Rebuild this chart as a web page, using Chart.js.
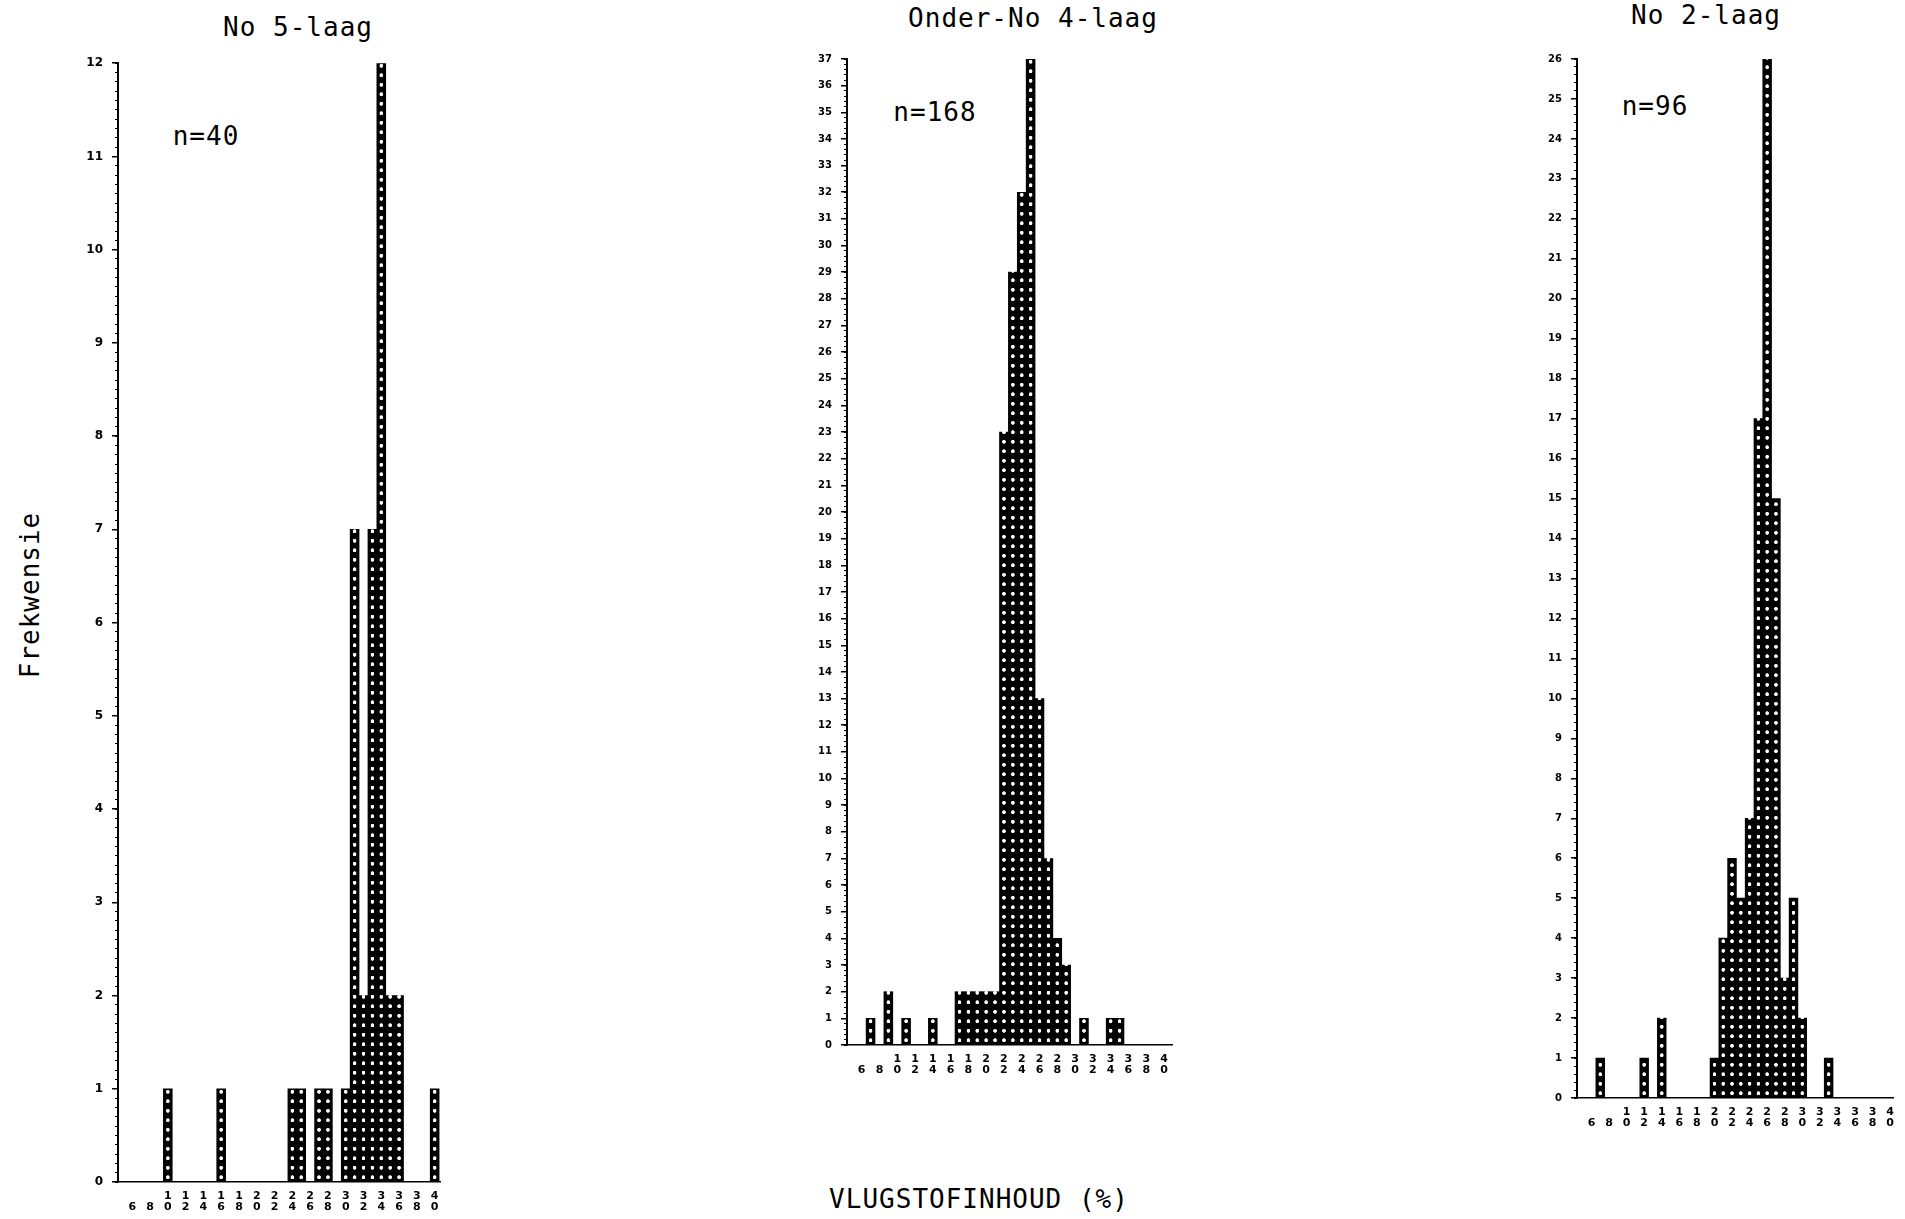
<!DOCTYPE html>
<html>
<head>
<meta charset="utf-8">
<script src="https://cdn.jsdelivr.net/npm/chart.js@4.4.1/dist/chart.umd.min.js"></script>
<style>
  body { margin: 0; width: 1905px; height: 1219px; background: #fff; position: relative; overflow: hidden; }
  canvas { position: absolute; }
  .txt {
    position: absolute; transform: translate(-50%, -50%);
    font-family: 'DejaVu Sans Mono', monospace; font-size: 26px; line-height: 1;
    letter-spacing: 1px; white-space: nowrap; color: #000;
  }
</style>
</head>
<body>
<div class="txt" style="left:298px;top:27px">No 5-laag</div>
<div class="txt" style="left:1033px;top:18px">Onder-No 4-laag</div>
<div class="txt" style="left:1706px;top:15px">No 2-laag</div>
<div class="txt" style="left:206px;top:136px">n=40</div>
<div class="txt" style="left:935px;top:112px">n=168</div>
<div class="txt" style="left:1655px;top:106px">n=96</div>
<div class="txt" style="left:30px;top:595px;transform:translate(-50%,-50%) rotate(-90deg)">Frekwensie</div>
<div class="txt" style="left:979px;top:1199px">VLUGSTOFINHOUD (%)</div>

<canvas id="no5" width="392" height="1170" style="left:58px;top:47px"></canvas>
<canvas id="no4" width="395" height="1036" style="left:787px;top:44px"></canvas>
<canvas id="no2" width="386" height="1089" style="left:1517px;top:44px"></canvas>

<script>
// histogram bins (volatile matter %, 1% classes)
const bins = [6, 7, 8, 9, 10, 11, 12, 13, 14, 15, 16, 17, 18, 19, 20, 21, 22, 23,
              24, 25, 26, 27, 28, 29, 30, 31, 32, 33, 34, 35, 36, 37, 38, 39, 40];
const tickBins = [6, 8, 10, 12, 14, 16, 18, 20, 22, 24, 26, 28, 30, 32, 34, 36, 38, 40];

// frequencies per bin
const no5 = [0, 0, 0, 0, 1, 0, 0, 0, 0, 0, 1, 0, 0, 0, 0, 0, 0, 0,
             1, 1, 0, 1, 1, 0, 1, 7, 2, 7, 12, 2, 2, 0, 0, 0, 1];
const onderNo4 = [0, 1, 0, 2, 0, 1, 0, 0, 1, 0, 0, 2, 2, 2, 2, 2, 23, 29,
                  32, 37, 13, 7, 4, 3, 0, 1, 0, 0, 1, 1, 0, 0, 0, 0, 0];
const no2 = [0, 1, 0, 0, 0, 0, 1, 0, 2, 0, 0, 0, 0, 0, 1, 4, 6, 5,
             7, 17, 26, 15, 3, 5, 2, 0, 0, 1, 0, 0, 0, 0, 0, 0, 0];

// black bars with white dots, one dot column per bin
function dotPattern(chart) {
  const xs = chart.scales.x, ys = chart.scales.y;
  if (!xs || !ys || !chart.chartArea) return '#000';
  const tile = document.createElement('canvas');
  tile.width = 20; tile.height = 20;
  const c = tile.getContext('2d');
  c.fillStyle = '#000';
  c.fillRect(0, 0, 20, 20);
  c.fillStyle = '#fff';
  c.beginPath();
  c.arc(10, 10, 4, 0, Math.PI * 2);
  c.fill();
  const pat = chart.ctx.createPattern(tile, 'repeat');
  const w = xs.getPixelForValue(1) - xs.getPixelForValue(0);
  const e = xs.getPixelForValue(bins[0] - 0.5);
  const f = ys.getPixelForValue(0);
  pat.setTransform(new DOMMatrix().translate(e, f).scale(w / 20, 9.5 / 20));
  return pat;
}

function histogram(id, values, yMax, minorStep, xMin, xMax, padRight, ySize) {
  const xFont = { family: 'DejaVu Sans', size: 11, weight: 'bold', lineHeight: 1 };
  const yFont = { family: 'DejaVu Sans', size: ySize, weight: 'bold' };
  new Chart(document.getElementById(id), {
    type: 'bar',
    data: {
      datasets: [{
        data: bins.map((b, i) => ({ x: b, y: values[i] })),
        backgroundColor: ctx => dotPattern(ctx.chart),
        borderWidth: 0,
        barPercentage: 1,
        categoryPercentage: 1,
        yAxisID: 'y'
      }]
    },
    options: {
      responsive: false,
      animation: false,
      layout: { padding: { top: 10, right: padRight, left: 0, bottom: 0 } },
      plugins: { legend: { display: false }, tooltip: { enabled: false } },
      scales: {
        x: {
          type: 'linear', min: xMin, max: xMax, position: 'bottom', offset: false,
          afterBuildTicks: s => { s.ticks = tickBins.map(v => ({ value: v })); },
          afterFit: s => { s.height = 35; },
          ticks: {
            autoSkip: false, maxRotation: 0, padding: 9, color: '#000', font: xFont,
            callback: v => { const s = String(v); return s.length > 1 ? s.split('') : ['', s]; }
          },
          grid: { display: true, offset: false, drawOnChartArea: false, drawTicks: false, color: 'rgba(0,0,0,0)' },
          border: { color: '#000', width: 1.5 }
        },
        y: {
          type: 'linear', min: 0, max: yMax, position: 'left', weight: 1,
          afterFit: s => { s.width = 60; },
          ticks: { stepSize: 1, autoSkip: false, maxTicksLimit: 100, padding: 9, color: '#000', font: yFont },
          grid: { drawOnChartArea: false, tickLength: 6, color: '#000', lineWidth: 1.5 },
          border: { color: '#000', width: 2 }
        },
        y2: {
          type: 'linear', min: 0, max: yMax, position: 'left', weight: 0,
          afterFit: s => { s.width = 0; },
          ticks: { display: false, stepSize: minorStep, autoSkip: false, maxTicksLimit: 1000 },
          grid: { drawOnChartArea: false, tickLength: 3, color: '#000', lineWidth: 1 },
          border: { display: false }
        }
      }
    }
  });
}

histogram('no5', no5, 12, 0.1, 4.4, 40.6, 10, 12);
histogram('no4', onderNo4, 37, 0.2, 4.35, 40.9, 10, 10);
histogram('no2', no2, 26, 0.2, 4.35, 40.4, 5, 10);
</script>
</body>
</html>
